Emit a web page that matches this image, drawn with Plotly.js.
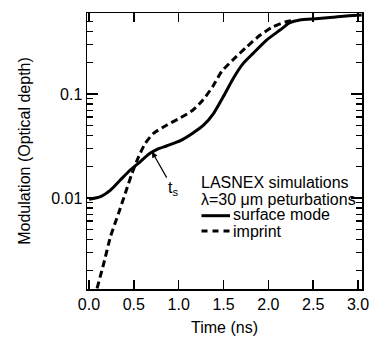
<!DOCTYPE html>
<html>
<head>
<meta charset="utf-8">
<script src="https://cdn.plot.ly/plotly-3.0.1.min.js"></script>
<style>html,body{margin:0;padding:0;background:#fff;}#chart{width:375px;height:348px;}</style>
</head>
<body>
<div id="chart"></div>
<script>
// Surface mode (solid)
const surfaceTime = [0.0, 0.13, 0.24, 0.35, 0.46, 0.57, 0.68, 0.76, 0.87, 1.02, 1.16, 1.28, 1.39, 1.50, 1.61, 1.72, 1.83, 1.98, 2.13, 2.24, 2.35, 2.53, 2.72, 2.90, 3.04];
const surfaceMod  = [0.0097, 0.0103, 0.0119, 0.0149, 0.0186, 0.0223, 0.0269, 0.0294, 0.0318, 0.0356, 0.0422, 0.0504, 0.0652, 0.0950, 0.142, 0.197, 0.246, 0.330, 0.412, 0.485, 0.515, 0.530, 0.546, 0.566, 0.575];
// Imprint (dashed)
const imprintTime = [0.09, 0.165, 0.24, 0.33, 0.405, 0.48, 0.553, 0.628, 0.72, 0.87, 1.02, 1.16, 1.27, 1.38, 1.48, 1.61, 1.76, 1.91, 2.05, 2.20, 2.30];
const imprintMod  = [0.00135, 0.00235, 0.00425, 0.00713, 0.0111, 0.0173, 0.0249, 0.0336, 0.0419, 0.0504, 0.0590, 0.0702, 0.0875, 0.118, 0.165, 0.215, 0.285, 0.369, 0.443, 0.495, 0.515];

const xTickVals = [0, 0.5, 1.0, 1.5, 2.0, 2.5, 3.0];
const xTickText = ['0.0', '0.5', '1.0', '1.5', '2.0', '2.5', '3.0'];
const yTickVals = [0.01, 0.1];
const yTickText = ['0.01', '0.1'];
const yMinorVals = [0.002,0.003,0.004,0.005,0.006,0.007,0.008,0.009,0.02,0.03,0.04,0.05,0.06,0.07,0.08,0.09,0.2,0.3,0.4,0.5];

const legendHeader = ['LASNEX simulations', 'λ=30 μm peturbations'];
const seriesNames = ['surface mode', 'imprint'];

const FONT = 'Liberation Sans, Arial, Helvetica, sans-serif';

const traces = [
  {x: surfaceTime, y: surfaceMod, mode: 'lines', name: seriesNames[0],
   line: {color: '#000', width: 3, shape: 'spline', smoothing: 0.6}, showlegend: false},
  {x: imprintTime, y: imprintMod, mode: 'lines', name: seriesNames[1],
   line: {color: '#000', width: 3, dash: '7px,4px', shape: 'spline', smoothing: 0.6}, showlegend: false}
];

// paper-coordinate helpers for the legend block
const L = 87, R = 13, T = 13, B = 59, W = 375, H = 348;
const pw = W - L - R, ph = H - T - B;
const px = v => (v - L) / pw;
const py = v => (H - B - v) / ph;

const annotations = [
  {xref: 'paper', yref: 'paper', x: px(199), y: py(182), xanchor: 'left', yanchor: 'middle', text: legendHeader[0], showarrow: false, font: {family: FONT, size: 16, color: '#000'}},
  {xref: 'paper', yref: 'paper', x: px(199), y: py(199), xanchor: 'left', yanchor: 'middle', text: legendHeader[1], showarrow: false, font: {family: FONT, size: 16, color: '#000'}},
  {xref: 'paper', yref: 'paper', x: px(231), y: py(215), xanchor: 'left', yanchor: 'middle', text: seriesNames[0], showarrow: false, font: {family: FONT, size: 16, color: '#000'}},
  {xref: 'paper', yref: 'paper', x: px(231), y: py(231), xanchor: 'left', yanchor: 'middle', text: seriesNames[1], showarrow: false, font: {family: FONT, size: 16, color: '#000'}},
  {x: 0.702, y: Math.log10(0.0279), xref: 'x', yref: 'y', text: 't<sub>s</sub>', showarrow: true,
   ax: 21, ay: 37, axref: 'pixel', ayref: 'pixel', arrowhead: 2, arrowsize: 1, arrowwidth: 1.2, arrowcolor: '#000', standoff: 0,
   font: {family: FONT, size: 16, color: '#000'}}
];

const shapes = [
  {type: 'line', xref: 'paper', yref: 'paper', x0: px(201.5), x1: px(230), y0: py(215.7), y1: py(215.7), line: {color: '#000', width: 3}},
  {type: 'line', xref: 'paper', yref: 'paper', x0: px(201.5), x1: px(230), y0: py(231), y1: py(231), line: {color: '#000', width: 3, dash: '6px,5px'}}
];

const layout = {
  width: W, height: H,
  margin: {l: L, r: R, t: T, b: B},
  paper_bgcolor: '#fff', plot_bgcolor: '#fff',
  font: {family: FONT, size: 16, color: '#000'},
  showlegend: false,
  xaxis: {
    range: [-0.022, 3.044], tickmode: 'array', tickvals: xTickVals, ticktext: xTickText,
    ticks: 'inside', ticklen: 9, tickwidth: 1.5, tickcolor: '#000',
    showline: true, linewidth: 1.5, linecolor: '#000', mirror: 'ticks',
    showgrid: false, zeroline: false,
    tickfont: {family: FONT, size: 16, color: '#000'},
    title: {text: 'Time (ns)', font: {family: FONT, size: 16, color: '#000'}, standoff: 10}
  },
  yaxis: {
    type: 'log', range: [-2.875, -0.221], tickmode: 'array', tickvals: yTickVals, ticktext: yTickText,
    ticks: 'inside', ticklen: 11, tickwidth: 1.5, tickcolor: '#000',
    minor: {tickmode: 'array', tickvals: yMinorVals, ticks: 'inside', ticklen: 6, tickwidth: 1.2, tickcolor: '#000', showgrid: false},
    showline: true, linewidth: 1.5, linecolor: '#000', mirror: 'ticks',
    showgrid: false, zeroline: false,
    tickfont: {family: FONT, size: 16, color: '#000'},
    title: {text: 'Modulation (Optical depth)', font: {family: FONT, size: 16, color: '#000'}, standoff: 16}
  },
  annotations: annotations,
  shapes: shapes
};

Plotly.newPlot('chart', traces, layout, {displayModeBar: false, staticPlot: true});
</script>
</body>
</html>
